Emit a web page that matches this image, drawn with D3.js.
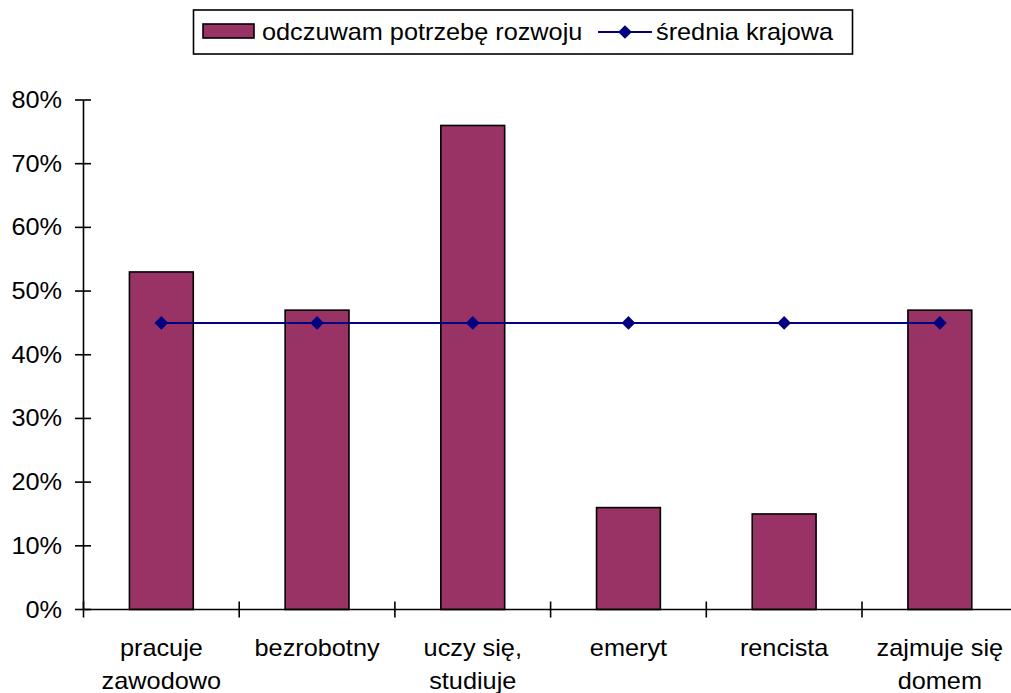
<!DOCTYPE html>
<html><head><meta charset="utf-8">
<script src="https://cdn.jsdelivr.net/npm/d3@7"></script>
<style>body{margin:0;background:#fff;} text{font-family:"Liberation Sans",Arial,sans-serif;fill:#000;}</style>
</head><body>
<svg id="c" width="1011" height="693"></svg>
<script>
const categories = [["pracuje","zawodowo"],["bezrobotny"],["uczy się,","studiuje"],["emeryt"],["rencista"],["zajmuje się","domem"]];
const catKeys = ["pracuje zawodowo","bezrobotny","uczy się, studiuje","emeryt","rencista","zajmuje się domem"];
const seriesBar = [53,47,76,16,15,47];
const seriesLine = [45,45,45,45,45,45];
const yTicks = [0,10,20,30,40,50,60,70,80];
const barName = "odczuwam potrzebę rozwoju";
const lineName = "średnia krajowa";

const svg = d3.select("#c");
const FS = 23, SX = 1.1;
function txt(g, x, y, s, anchor){
  return g.append("text").attr("font-size", FS).attr("text-anchor", anchor||"start")
    .attr("transform", `translate(${x},${y}) scale(${SX},1)`).text(s);
}

const x = d3.scaleBand().domain(catKeys).range([83.5, 1017.7]).padding(0);
const y = d3.scaleLinear().domain([0,80]).range([609.5, 100]);
const barW = x.bandwidth()*0.41;

// bars
svg.append("g").selectAll("rect").data(seriesBar).join("rect")
  .attr("x",(d,i)=>x(catKeys[i]) + x.bandwidth()/2 - barW/2)
  .attr("y",d=>y(d)).attr("width",barW).attr("height",d=>y(0)-y(d))
  .attr("fill","#993366").attr("stroke","#000").attr("stroke-width",1.6);

// axes
const ax = svg.append("g").attr("stroke","#000").attr("stroke-width",1.6);
ax.append("line").attr("x1",83.5).attr("x2",83.5).attr("y1",y(80)).attr("y2",y(0));
ax.append("line").attr("x1",83.5).attr("x2",1011).attr("y1",y(0)).attr("y2",y(0));
yTicks.forEach(v=>{
  ax.append("line").attr("x1",75).attr("x2",91).attr("y1",y(v)).attr("y2",y(v));
});
catKeys.forEach((k,i)=>{
  const xx = x(k);
  ax.append("line").attr("x1",xx).attr("x2",xx).attr("y1",y(0)-8).attr("y2",y(0)+8);
});

// y labels
const yl = svg.append("g");
yTicks.forEach(v=>{
  txt(yl, 62, y(v)+8, v+"%", "end");
});

// x labels
const xl = svg.append("g");
categories.forEach((lines,i)=>{
  const cx = x(catKeys[i]) + x.bandwidth()/2;
  lines.forEach((s,j)=>txt(xl, cx, 656 + j*33, s, "middle"));
});

// line series
const lineGen = d3.line().x((d,i)=>x(catKeys[i])+x.bandwidth()/2).y(d=>y(d));
svg.append("path").datum(seriesLine).attr("d",lineGen).attr("fill","none")
  .attr("stroke","#000080").attr("stroke-width",2);
const diamond = d3.symbol().type(d3.symbolDiamond2).size(120);
svg.append("g").selectAll("path").data(seriesLine).join("path")
  .attr("d",diamond())
  .attr("transform",(d,i)=>`translate(${x(catKeys[i])+x.bandwidth()/2},${y(d)})`)
  .attr("fill","#000080");

// legend
const lg = svg.append("g");
lg.append("rect").attr("x",193.5).attr("y",10).attr("width",659).attr("height",44)
  .attr("fill","#fff").attr("stroke","#000").attr("stroke-width",1.6);
lg.append("rect").attr("x",203).attr("y",24).attr("width",51).attr("height",14)
  .attr("fill","#993366").attr("stroke","#000").attr("stroke-width",1.6);
txt(lg, 262, 40, barName);
lg.append("line").attr("x1",598).attr("x2",652).attr("y1",32).attr("y2",32)
  .attr("stroke","#000080").attr("stroke-width",2);
lg.append("path").attr("d",diamond()).attr("transform","translate(625,32)").attr("fill","#000080");
txt(lg, 656, 40, lineName);
</script>
</body></html>
